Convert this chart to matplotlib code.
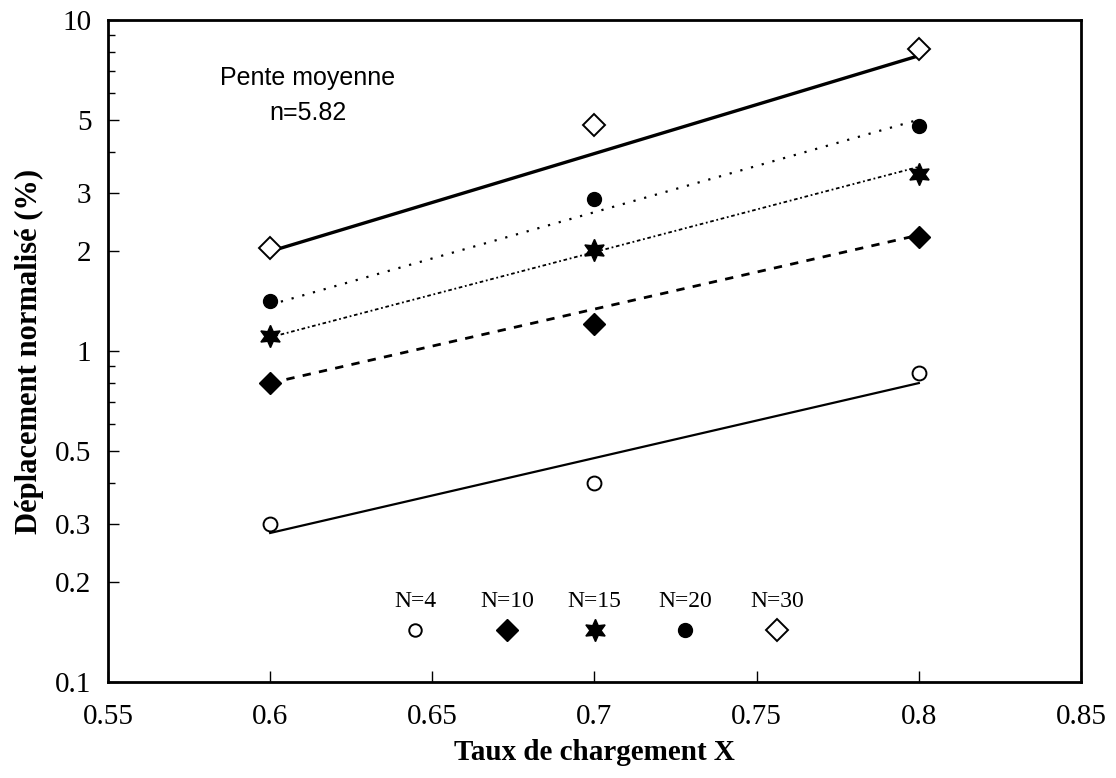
import matplotlib.pyplot as plt
from matplotlib.ticker import FixedLocator, NullFormatter

x = [0.6, 0.7, 0.8]

# measured points
n4 = [0.30, 0.40, 0.86]
n10 = [0.80, 1.21, 2.21]
n15 = [1.11, 2.02, 3.43]
n20 = [1.42, 2.88, 4.78]
n30 = [2.05, 4.82, 8.2]

# fitted lines, values at x = 0.6 and x = 0.8
fit_x = [0.6, 0.8]
fit4 = [0.282, 0.80]
fit10 = [0.80, 2.24]
fit15 = [1.10, 3.6]
fit20 = [1.38, 5.0]
fit30 = [2.0, 7.8]

labels = ["N=4", "N=10", "N=15", "N=20", "N=30"]

serif = ["Liberation Serif", "DejaVu Serif"]
sans = ["Liberation Sans", "DejaVu Sans"]

fig = plt.figure(figsize=(11.16, 7.78), dpi=100)
ax = fig.add_axes([108 / 1116, 1 - 682 / 778, 973 / 1116, 662 / 778])

ax.plot(fit_x, fit30, "k-", lw=2.4)
ax.plot(fit_x, fit20, color="k", lw=1.6, ls=(0, (1, 4)))
ax.plot(fit_x, fit15, color="k", lw=1.3, ls=(0, (2, 1.5, 1, 1.5)))
ax.plot(fit_x, fit10, color="k", lw=2.0, ls=(0, (3, 3)))
ax.plot(fit_x, fit4, "k-", lw=1.6)

ms_open = dict(mfc="white", mec="k", mew=1.4, ls="none")
ax.plot(x, n30, marker="D", ms=11, **ms_open)
ax.plot(x, n4, marker="o", ms=10, **ms_open)
ax.plot(x, n20, marker="o", ms=10, color="k", ls="none")
ax.plot(x, n10, marker="D", ms=11, color="k", ls="none")
ax.plot(x, n15, marker=(6, 1, 0), ms=16, color="k", ls="none")

# legend drawn by hand: label above marker
leg_x = [0.316, 0.410, 0.500, 0.593, 0.688]
leg_styles = [
    dict(marker="o", ms=9, **ms_open),
    dict(marker="D", ms=11, color="k", ls="none"),
    dict(marker=(6, 1, 0), ms=16, color="k", ls="none"),
    dict(marker="o", ms=10, color="k", ls="none"),
    dict(marker="D", ms=11, **ms_open),
]
for lx, lab, st in zip(leg_x, labels, leg_styles):
    ax.plot([lx], [0.079], transform=ax.transAxes, clip_on=False, **st)
    ax.text(lx, 0.122, lab, transform=ax.transAxes, ha="center", va="center",
            fontsize=17, family=serif)

ax.text(0.205, 0.912, "Pente moyenne", transform=ax.transAxes, ha="center",
        va="center", fontsize=18, family=sans)
ax.text(0.205, 0.859, "n=5.82", transform=ax.transAxes, ha="center",
        va="center", fontsize=18, family=sans)

ax.set_yscale("log")
ax.set_xlim(0.55, 0.85)
ax.set_ylim(0.1, 10)

yt = [0.1, 0.2, 0.3, 0.5, 1, 2, 3, 5, 10]
ax.yaxis.set_major_locator(FixedLocator(yt))
ax.set_yticklabels(["0.1", "0.2", "0.3", "0.5", "1", "2", "3", "5", "10"])
ax.yaxis.set_minor_locator(FixedLocator([0.4, 0.6, 0.7, 0.8, 0.9, 4, 6, 7, 8, 9]))
ax.yaxis.set_minor_formatter(NullFormatter())
xt = [0.55, 0.6, 0.65, 0.7, 0.75, 0.8, 0.85]
ax.set_xticks(xt)
ax.set_xticklabels(["0.55", "0.6", "0.65", "0.7", "0.75", "0.8", "0.85"])

ax.tick_params(axis="both", which="major", direction="in", length=8, width=1,
               labelsize=21)
ax.tick_params(axis="x", which="major", pad=16)
ax.tick_params(axis="y", which="major", pad=12)
ax.tick_params(axis="y", which="minor", direction="in", length=5, width=1)
for lab in ax.get_xticklabels() + ax.get_yticklabels():
    lab.set_family(serif)
for s in ax.spines.values():
    s.set_linewidth(2)

ax.set_xlabel("Taux de chargement X", fontsize=21, fontweight="bold",
              family=serif, labelpad=6)
ax.set_ylabel("Déplacement normalisé (%)", fontsize=22, fontweight="bold",
              family=serif, labelpad=8)

fig.savefig("out.png", dpi=100)
